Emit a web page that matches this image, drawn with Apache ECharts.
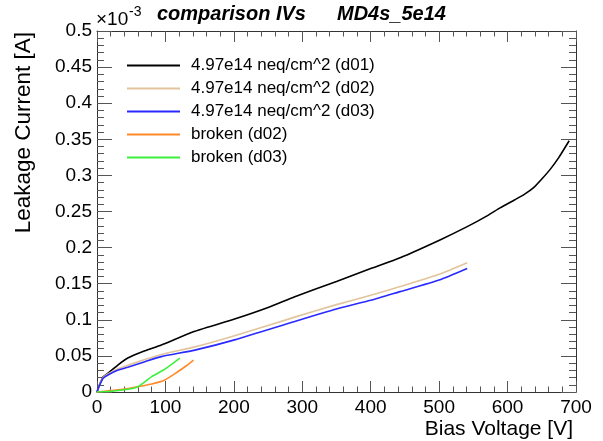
<!DOCTYPE html>
<html><head><meta charset="utf-8">
<script src="https://cdn.jsdelivr.net/npm/echarts@6/dist/echarts.min.js"></script>
<style>html,body{margin:0;padding:0;background:#fff}#c{width:603px;height:441px}</style>
</head><body><div id="c"></div>
<script>
// values in units of 1e-3 A, as displayed on the axis
const seriesNames = ["4.97e14 neq/cm^2 (d01)", "4.97e14 neq/cm^2 (d02)", "4.97e14 neq/cm^2 (d03)", "broken (d02)", "broken (d03)"];
const d01V = [0, 2, 5, 9, 16, 30, 45, 70, 94, 143, 201, 250, 289, 350, 400, 443, 502, 541, 570, 589, 610, 625, 638, 650, 662, 675, 690];
const d01I = [0, 0.006, 0.013, 0.021, 0.026, 0.037, 0.047, 0.057, 0.065, 0.084, 0.101, 0.117, 0.132, 0.153, 0.171, 0.186, 0.211, 0.229, 0.244, 0.255, 0.266, 0.274, 0.283, 0.295, 0.308, 0.325, 0.348];
const d02V = [0, 2, 4, 9, 16, 30, 45, 70, 94, 143, 201, 289, 350, 400, 443, 500, 541];
const d02I = [0, 0.005, 0.011, 0.020, 0.025, 0.032, 0.037, 0.045, 0.052, 0.0625, 0.078, 0.1037, 0.121, 0.134, 0.146, 0.163, 0.179];
const d03V = [0, 2, 4, 9, 16, 30, 45, 70, 94, 143, 201, 289, 350, 400, 443, 500, 541];
const d03I = [0, 0.005, 0.010, 0.019, 0.0236, 0.030, 0.0343, 0.042, 0.049, 0.058, 0.0722, 0.0977, 0.115, 0.127, 0.139, 0.155, 0.171];
const brk02V = [0, 20, 40, 60, 80, 99, 118, 130, 141];
const brk02I = [0, 0.002, 0.004, 0.0074, 0.011, 0.0166, 0.028, 0.036, 0.0443];
const brk03V = [0, 21, 45, 60, 70, 80, 99, 110, 121];
const brk03I = [0, 0.001, 0.0037, 0.0074, 0.014, 0.0213, 0.0315, 0.039, 0.0468];
const xTickLabels = ["0", "100", "200", "300", "400", "500", "600", "700"];
const yTickLabels = ["0", "0.05", "0.1", "0.15", "0.2", "0.25", "0.3", "0.35", "0.4", "0.45", "0.5"];

const colors = ["#000000", "#e2c49c", "#2a2aff", "#ff8a2a", "#3cf03c"];
const xs = [d01V, d02V, d03V, brk02V, brk03V];
const ys = [d01I, d02I, d03I, brk02I, brk03I];
const pair = (a, b) => a.map((v, i) => [v, b[i]]);

const font = "'Liberation Sans', Arial, sans-serif";
const chart = echarts.init(document.getElementById('c'), null, {renderer: 'canvas'});
const tickCol = '#555';
const xBase = {
  type: 'value', min: 0, max: 700, interval: 100,
  axisLine: {show: true, onZero: false, lineStyle: {color: '#333', width: 1}},
  splitLine: {show: false},
  minorTick: {show: true, splitNumber: 5, length: 5.5, lineStyle: {color: tickCol}},
  axisTick: {show: true, inside: true, length: 11, lineStyle: {color: tickCol}}
};
const yBase = {
  type: 'value', min: 0, max: 0.5, interval: 0.05,
  axisLine: {show: true, onZero: false, lineStyle: {color: '#333', width: 1}},
  splitLine: {show: false},
  minorTick: {show: true, splitNumber: 5, length: 7, lineStyle: {color: tickCol}},
  axisTick: {show: true, inside: true, length: 15, lineStyle: {color: tickCol}}
};
chart.setOption({
  animation: false,
  color: colors,
  grid: {left: 97, right: 27, top: 31, bottom: 49, show: false},
  xAxis: [
    Object.assign({}, xBase, {position: 'bottom',
      axisLabel: {show: true, fontSize: 19, color: '#000', fontFamily: font, margin: 6,
        formatter: (v) => xTickLabels[Math.round(v / 100)]}}),
    Object.assign({}, xBase, {position: 'top', axisLabel: {show: false}})
  ],
  yAxis: [
    Object.assign({}, yBase, {position: 'left',
      axisLabel: {show: true, fontSize: 19, color: '#000', fontFamily: font, margin: 5,
        formatter: (v) => yTickLabels[Math.round(v / 0.05)]}}),
    Object.assign({}, yBase, {position: 'right', axisLabel: {show: false}})
  ],
  legend: {
    show: true, orient: 'vertical', left: 126, top: 57, padding: 0,
    itemWidth: 53, itemHeight: 14, itemGap: 6,
    itemStyle: {opacity: 0},
    textStyle: {fontSize: 17, fontFamily: font, color: '#000', padding: [0, 0, 0, 6]},
    data: seriesNames
  },
  series: seriesNames.map((n, i) => ({
    name: n, type: 'line', symbol: 'none', showSymbol: false,
    smooth: 0.2,
    data: pair(xs[i], ys[i]),
    lineStyle: {width: 1.6, color: colors[i]},
    itemStyle: {color: colors[i]}
  })),
  graphic: [
    {type: 'text', x: 96, y: 20, style: {text: '×10', font: '19px ' + font, fill: '#000', textVerticalAlign: 'middle'}},
    {type: 'text', x: 129, y: 12, style: {text: '-3', font: '14px ' + font, fill: '#000', textVerticalAlign: 'middle'}},
    {type: 'text', x: 157, y: 14, style: {text: 'comparison IVs', font: 'italic bold 20px ' + font, fill: '#000', textVerticalAlign: 'middle'}},
    {type: 'text', x: 337, y: 14, style: {text: 'MD4s_5e14', font: 'italic bold 20px ' + font, fill: '#000', textVerticalAlign: 'middle'}},
    {type: 'text', x: 573, y: 429, style: {text: 'Bias Voltage [V]', font: '21px ' + font, fill: '#000', textAlign: 'right', textVerticalAlign: 'middle'}},
    {type: 'text', x: 24, y: 32, rotation: Math.PI / 2, style: {text: 'Leakage Current [A]', font: '22.5px ' + font, fill: '#000', textAlign: 'right', textVerticalAlign: 'middle'}}
  ]
});
</script></body></html>
